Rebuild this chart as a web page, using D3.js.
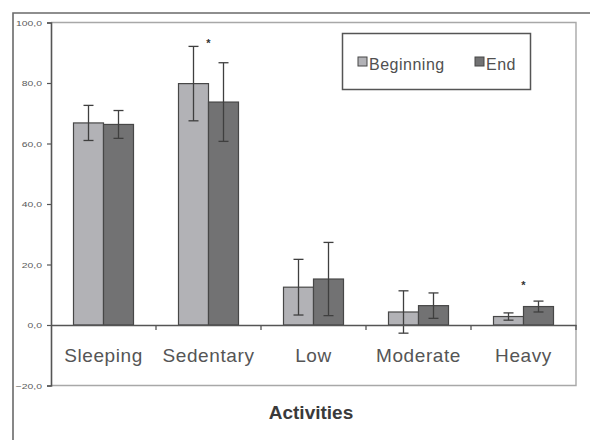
<!DOCTYPE html>
<html>
<head>
<meta charset="utf-8">
<script src="https://cdn.jsdelivr.net/npm/d3@7"></script>
<style>
  html, body { margin: 0; padding: 0; background: #fff; }
  svg { display: block; font-family: "Liberation Sans", Arial, sans-serif; }
</style>
</head>
<body>
<svg id="chart" width="590" height="440"></svg>
<script>
// Activity time (%) at the beginning and end of the period, mean ± SD
const categories = ["Sleeping", "Sedentary", "Low", "Moderate", "Heavy"];
const seriesNames = ["Beginning", "End"];
const beginning = [66.8, 79.8, 12.5, 4.3, 2.8];
const beginningErr = [5.8, 12.3, 9.2, 7.0, 1.2];
const endValues = [66.3, 73.7, 15.2, 6.4, 6.1];
const endErr = [4.6, 13.0, 12.1, 4.2, 1.8];
const yTicks = [-20, 0, 20, 40, 60, 80, 100];
// significance markers: category and height of the asterisk
const sigCategories = ["Sedentary", "Heavy"];
const sigLevels = [94, 14];
const xTitle = "Activities";

const colors = { Beginning: "#b2b2b6", End: "#727273" };

const svg = d3.select("#chart");

const plot = { left: 51, right: 576, top: 22.5, bottom: 385.5 };

const x = d3.scaleBand().domain(categories).range([plot.left, plot.right]).paddingInner(0).paddingOuter(0);
const xs = d3.scaleBand().domain(seriesNames).range([0, x.bandwidth()]).paddingInner(0).paddingOuter(0.75);
const y = d3.scaleLinear().domain([-20, 100]).range([plot.bottom, plot.top]);

// outer chart frame
svg.append("path")
  .attr("d", `M13,440 V13 H592`)
  .attr("fill", "none").attr("stroke", "#6a6a6a").attr("stroke-width", 1.6);

// plot area border (top, right, bottom)
svg.append("path")
  .attr("d", `M${plot.left},${plot.top} H${plot.right} V${plot.bottom} H${plot.left}`)
  .attr("fill", "none").attr("stroke", "#a8a8a8").attr("stroke-width", 1.4);

// rows of data
const rows = categories.map((c, i) => ({
  cat: c,
  vals: [
    { s: "Beginning", v: beginning[i], e: beginningErr[i] },
    { s: "End", v: endValues[i], e: endErr[i] }
  ]
}));

const groups = svg.append("g").selectAll("g").data(rows).join("g")
  .attr("transform", d => `translate(${x(d.cat)},0)`);

groups.selectAll("rect").data(d => d.vals).join("rect")
  .attr("x", d => xs(d.s))
  .attr("width", xs.bandwidth())
  .attr("y", d => y(Math.max(0, d.v)))
  .attr("height", d => Math.abs(y(d.v) - y(0)))
  .attr("fill", d => colors[d.s])
  .attr("stroke", "#474747")
  .attr("stroke-width", 1.2);

// error bars
const capW = 10;
const eb = groups.selectAll("g.err").data(d => d.vals).join("g").attr("class", "err")
  .attr("stroke", "#3f3f3f").attr("stroke-width", 1.3);
eb.append("line")
  .attr("x1", d => xs(d.s) + xs.bandwidth() / 2).attr("x2", d => xs(d.s) + xs.bandwidth() / 2)
  .attr("y1", d => y(d.v + d.e)).attr("y2", d => y(d.v - d.e));
eb.append("line")
  .attr("x1", d => xs(d.s) + xs.bandwidth() / 2 - capW / 2).attr("x2", d => xs(d.s) + xs.bandwidth() / 2 + capW / 2)
  .attr("y1", d => y(d.v + d.e)).attr("y2", d => y(d.v + d.e));
eb.append("line")
  .attr("x1", d => xs(d.s) + xs.bandwidth() / 2 - capW / 2).attr("x2", d => xs(d.s) + xs.bandwidth() / 2 + capW / 2)
  .attr("y1", d => y(d.v - d.e)).attr("y2", d => y(d.v - d.e));

// zero line with category tick marks
const zeroAxis = d3.axisBottom(x).tickSize(0).tickFormat("");
svg.append("g").attr("transform", `translate(0,${y(0)})`).call(zeroAxis)
  .call(g => g.select(".domain").attr("stroke", "#555").attr("stroke-width", 1.5));
const boundaries = categories.map(c => x(c) + x.bandwidth());
svg.append("g").selectAll("line").data(boundaries).join("line")
  .attr("x1", d => d).attr("x2", d => d)
  .attr("y1", y(0)).attr("y2", y(0) + 5)
  .attr("stroke", "#555").attr("stroke-width", 1.3);

// category labels
svg.append("g").selectAll("text").data(categories).join("text")
  .attr("x", d => x(d) + x.bandwidth() / 2)
  .attr("y", 362)
  .attr("text-anchor", "middle")
  .attr("font-size", 19)
  .attr("letter-spacing", 0.6)
  .attr("fill", "#555")
  .text(d => d);

// y axis
const fmt = d => d3.format(".1f")(d).replace(".", ",");
const yAxis = d3.axisLeft(y).tickValues(yTicks).tickSize(4).tickPadding(0).tickFormat(fmt);
const ya = svg.append("g").attr("transform", `translate(${plot.left},0)`).call(yAxis);
ya.select(".domain").attr("stroke", "#555").attr("stroke-width", 1.6);
ya.selectAll(".tick line").attr("stroke", "#555").attr("stroke-width", 1.2);
ya.selectAll(".tick text")
  .attr("x", null)
  .attr("font-size", 8)
  .attr("fill", "#5a5a5a")
  .attr("font-family", "'Liberation Sans', Arial, sans-serif")
  .attr("transform", "translate(-9,0) scale(1.3,1)");

// significance asterisks
svg.append("g").selectAll("text").data(sigCategories).join("text")
  .attr("x", d => x(d) + x.bandwidth() / 2)
  .attr("y", (d, i) => y(sigLevels[i]) + 6)
  .attr("text-anchor", "middle")
  .attr("font-size", 11)
  .attr("font-weight", "bold")
  .attr("fill", "#333")
  .text("*");

// x axis title
svg.append("text")
  .attr("x", 311).attr("y", 419)
  .attr("text-anchor", "middle")
  .attr("font-size", 19)
  .attr("font-weight", "bold")
  .attr("fill", "#3a3a3a")
  .text(xTitle);

// legend
const legend = svg.append("g");
legend.append("rect")
  .attr("x", 342.5).attr("y", 33.5).attr("width", 188).attr("height", 56)
  .attr("fill", "#fff").attr("stroke", "#555").attr("stroke-width", 1.5);
const legendX = [358, 475];
const li = legend.selectAll("g.item").data(seriesNames).join("g").attr("class", "item")
  .attr("transform", (d, i) => `translate(${legendX[i]},57)`);
li.append("rect")
  .attr("width", 9).attr("height", 9)
  .attr("fill", d => colors[d]).attr("stroke", "#474747").attr("stroke-width", 1);
li.append("text")
  .attr("x", 11).attr("y", 12.5)
  .attr("font-size", 16)
  .attr("letter-spacing", 0.5)
  .attr("fill", "#505050")
  .text(d => d);
</script>
</body>
</html>
